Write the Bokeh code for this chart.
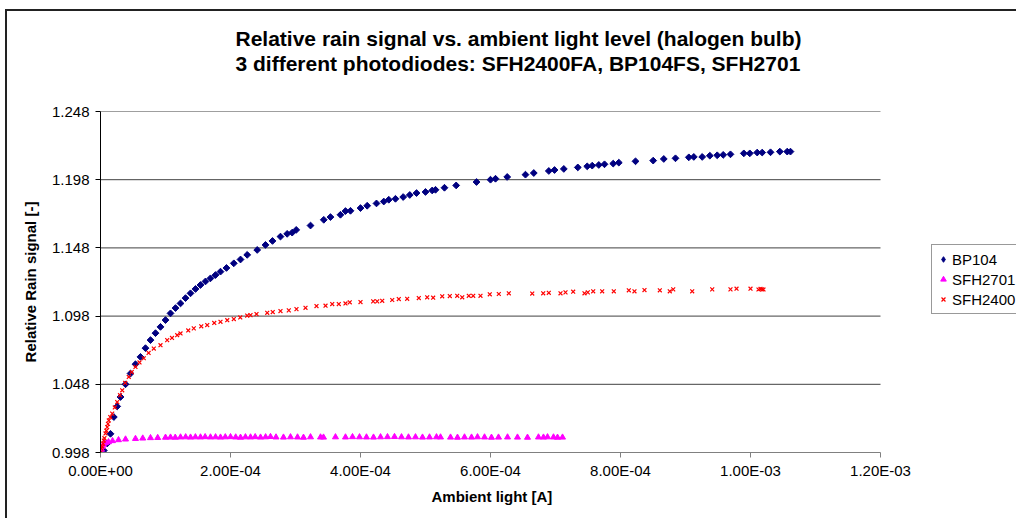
from bokeh.plotting import figure
from bokeh.layouts import column
from bokeh.models import (Range1d, FixedTicker, CustomJSTickFormatter, PrintfTickFormatter,
                          Legend, LegendItem, Title)
from bokeh.embed import file_html
from bokeh.resources import INLINE

title_line1 = "Relative rain signal vs. ambient light level (halogen bulb)"
title_line2 = "3 different photodiodes: SFH2400FA, BP104FS, SFH2701"
x_label = "Ambient light [A]"
y_label = "Relative Rain signal [-]"
series_names = ["BP104", "SFH2701", "SFH2400"]

x_ticks = [0.0, 2e-4, 4e-4, 6e-4, 8e-4, 1e-3, 1.2e-3]
y_ticks = [0.998, 1.048, 1.098, 1.148, 1.198, 1.248]

# (ambient light [A], relative rain signal)
bp104 = [
    (0.0, 0.998), (5.1e-6, 0.9995), (1.03e-5, 1.0046), (1.54e-5, 1.0117), (2.05e-5, 1.0240),
    (2.57e-5, 1.0318), (3.08e-5, 1.0387), (3.85e-5, 1.0480), (4.62e-5, 1.0559), (5.38e-5, 1.0627),
    (6.15e-5, 1.0681), (6.92e-5, 1.0745), (7.69e-5, 1.0804), (8.46e-5, 1.0855), (9.23e-5, 1.0901),
    (1.0e-4, 1.0951), (1.077e-4, 1.1000), (1.154e-4, 1.1039), (1.231e-4, 1.1073), (1.308e-4, 1.1112),
    (1.385e-4, 1.1147), (1.462e-4, 1.1179), (1.538e-4, 1.1208), (1.615e-4, 1.1234), (1.692e-4, 1.1257),
    (1.769e-4, 1.1281), (1.846e-4, 1.1306), (1.938e-4, 1.1333), (2.051e-4, 1.1367), (2.154e-4, 1.1395),
    (2.257e-4, 1.1429), (2.411e-4, 1.1465), (2.538e-4, 1.1502), (2.646e-4, 1.1531), (2.769e-4, 1.1563),
    (2.872e-4, 1.1583), (2.949e-4, 1.1592), (3.011e-4, 1.1612), (3.231e-4, 1.1644), (3.435e-4, 1.1686),
    (3.538e-4, 1.1706), (3.692e-4, 1.1723), (3.769e-4, 1.1750), (3.846e-4, 1.1752), (4.0e-4, 1.1772),
    (4.103e-4, 1.1789), (4.246e-4, 1.1806), (4.358e-4, 1.1820), (4.435e-4, 1.1833), (4.538e-4, 1.1840),
    (4.657e-4, 1.1853), (4.758e-4, 1.1868), (4.862e-4, 1.1882), (5.0e-4, 1.1890), (5.103e-4, 1.1901),
    (5.154e-4, 1.1906), (5.292e-4, 1.1921), (5.472e-4, 1.1938), (5.785e-4, 1.1963), (6.0e-4, 1.1980),
    (6.077e-4, 1.1987), (6.257e-4, 1.2000), (6.538e-4, 1.2017), (6.666e-4, 1.2029), (6.897e-4, 1.2044),
    (6.985e-4, 1.2051), (7.128e-4, 1.2059), (7.343e-4, 1.2070), (7.488e-4, 1.2078), (7.565e-4, 1.2083),
    (7.666e-4, 1.2088), (7.754e-4, 1.2093), (7.888e-4, 1.2098), (7.974e-4, 1.2105), (8.231e-4, 1.2115),
    (8.503e-4, 1.2120), (8.666e-4, 1.2132), (8.846e-4, 1.2137), (9.051e-4, 1.2144), (9.128e-4, 1.2147),
    (9.257e-4, 1.2147), (9.374e-4, 1.2156), (9.488e-4, 1.2159), (9.580e-4, 1.2162), (9.692e-4, 1.2166),
    (9.897e-4, 1.2173), (9.989e-4, 1.2173), (1.0103e-3, 1.2179), (1.018e-3, 1.2179), (1.0308e-3, 1.2181),
    (1.0451e-3, 1.2186), (1.0565e-3, 1.2186), (1.0615e-3, 1.2186),
]

sfh2701 = [
    (0.0, 0.998), (1.5e-6, 1.0002), (3.1e-6, 1.0024), (4.6e-6, 1.0039), (7.7e-6, 1.0050),
    (1.23e-5, 1.0057), (1.85e-5, 1.0065), (2.77e-5, 1.0072), (3.85e-5, 1.0077), (5.38e-5, 1.0081),
    (6.5e-5, 1.0084), (7.69e-5, 1.0087), (8.8e-5, 1.0088), (1.0e-4, 1.0090), (1.077e-4, 1.0091),
    (1.15e-4, 1.0090), (1.231e-4, 1.0092), (1.31e-4, 1.0093), (1.385e-4, 1.0091), (1.46e-4, 1.0093),
    (1.538e-4, 1.0092), (1.61e-4, 1.0094), (1.692e-4, 1.0092), (1.77e-4, 1.0093), (1.846e-4, 1.0091),
    (1.92e-4, 1.0093), (2.0e-4, 1.0094), (2.08e-4, 1.0092), (2.154e-4, 1.0090), (2.23e-4, 1.0093),
    (2.308e-4, 1.0092), (2.38e-4, 1.0094), (2.462e-4, 1.0091), (2.54e-4, 1.0093), (2.615e-4, 1.0095),
    (2.70e-4, 1.0092), (2.815e-4, 1.0091), (2.923e-4, 1.0093), (3.031e-4, 1.0092), (3.123e-4, 1.0090),
    (3.231e-4, 1.0093), (3.385e-4, 1.0092), (3.431e-4, 1.0091), (3.615e-4, 1.0093), (3.769e-4, 1.0092),
    (3.877e-4, 1.0094), (3.985e-4, 1.0093), (4.092e-4, 1.0092), (4.2e-4, 1.0091), (4.308e-4, 1.0093),
    (4.415e-4, 1.0094), (4.523e-4, 1.0095), (4.631e-4, 1.0093), (4.738e-4, 1.0092), (4.846e-4, 1.0093),
    (4.954e-4, 1.0091), (5.062e-4, 1.0092), (5.169e-4, 1.0093), (5.231e-4, 1.0092), (5.385e-4, 1.0091),
    (5.492e-4, 1.0090), (5.6e-4, 1.0092), (5.708e-4, 1.0091), (5.8e-4, 1.0093), (5.908e-4, 1.0092),
    (6.015e-4, 1.0090), (6.123e-4, 1.0091), (6.262e-4, 1.0092), (6.415e-4, 1.0091), (6.569e-4, 1.0090),
    (6.738e-4, 1.0092), (6.815e-4, 1.0091), (6.877e-4, 1.0093), (6.969e-4, 1.0092), (7.031e-4, 1.0090),
    (7.108e-4, 1.0091),
]

sfh2400 = [
    (0.0, 0.998), (1.5e-6, 1.0009), (2.6e-6, 1.0024), (4.0e-6, 1.0045), (5.1e-6, 1.0068),
    (6.0e-6, 1.0085), (7.7e-6, 1.0120), (9.0e-6, 1.0140), (1.03e-5, 1.0166), (1.15e-5, 1.0190),
    (1.28e-5, 1.0215), (1.5e-5, 1.0240), (1.8e-5, 1.0265), (2.2e-5, 1.0310), (2.57e-5, 1.0350),
    (3.0e-5, 1.0400), (3.34e-5, 1.0436), (3.8e-5, 1.0490), (4.35e-5, 1.0534), (4.8e-5, 1.0570),
    (5.38e-5, 1.0607), (6.0e-5, 1.0640), (6.66e-5, 1.0671), (7.4e-5, 1.0710), (8.2e-5, 1.0742),
    (9.23e-5, 1.0767), (1.026e-4, 1.0804), (1.1e-4, 1.0820), (1.18e-4, 1.0840), (1.231e-4, 1.0853),
    (1.35e-4, 1.0875), (1.435e-4, 1.0890), (1.55e-4, 1.0905), (1.642e-4, 1.0914), (1.75e-4, 1.0930),
    (1.846e-4, 1.0938), (1.95e-4, 1.0950), (2.051e-4, 1.0958), (2.15e-4, 1.0970), (2.257e-4, 1.0984),
    (2.308e-4, 1.0987), (2.4e-4, 1.0995), (2.565e-4, 1.1004), (2.65e-4, 1.1010), (2.769e-4, 1.1017),
    (2.897e-4, 1.1022), (3.015e-4, 1.1031), (3.154e-4, 1.1041), (3.323e-4, 1.1054), (3.462e-4, 1.1056),
    (3.565e-4, 1.1068), (3.666e-4, 1.1068), (3.769e-4, 1.1073), (3.835e-4, 1.1081), (4.0e-4, 1.1083),
    (4.195e-4, 1.1088), (4.257e-4, 1.1088), (4.334e-4, 1.1092), (4.488e-4, 1.1098), (4.589e-4, 1.1105),
    (4.718e-4, 1.1107), (4.897e-4, 1.1112), (5.026e-4, 1.1118), (5.118e-4, 1.1115), (5.257e-4, 1.1125),
    (5.374e-4, 1.1127), (5.488e-4, 1.1129), (5.565e-4, 1.1118), (5.666e-4, 1.1129), (5.734e-4, 1.1129),
    (5.846e-4, 1.1129), (5.989e-4, 1.1140), (6.128e-4, 1.1142), (6.282e-4, 1.1147), (6.642e-4, 1.1145),
    (6.811e-4, 1.1147), (6.897e-4, 1.1151), (7.077e-4, 1.1147), (7.154e-4, 1.1154), (7.272e-4, 1.1159),
    (7.446e-4, 1.1147), (7.497e-4, 1.1154), (7.580e-4, 1.1162), (7.718e-4, 1.1162), (7.897e-4, 1.1162),
    (8.128e-4, 1.1169), (8.215e-4, 1.1162), (8.369e-4, 1.1171), (8.605e-4, 1.1169), (8.758e-4, 1.1162),
    (8.811e-4, 1.1176), (9.103e-4, 1.1162), (9.411e-4, 1.1176), (9.692e-4, 1.1176), (9.785e-4, 1.1181),
    (1.0e-3, 1.1181), (1.0123e-3, 1.1175), (1.0154e-3, 1.1179), (1.018e-3, 1.1176), (1.02e-3, 1.1175),
]

FONT = "Liberation Sans"

# The frame runs on to the right edge so that the legend (outside the plot area) is not clipped;
# axis line and grid lines stop at the last tick, as in the reference.
FIG_W, FIG_H = 1009, 507
BORDER_L, BORDER_T, BORDER_B = 93, 100, 66
PLOT_AREA_W = 780
frame_w = FIG_W - BORDER_L
x_end = x_ticks[-1] * frame_w / PLOT_AREA_W

p = figure(width=FIG_W, height=FIG_H, output_backend="svg", toolbar_location=None, title=None,
           x_range=Range1d(x_ticks[0], x_end), y_range=Range1d(y_ticks[0], y_ticks[-1]),
           min_border_left=BORDER_L, min_border_right=0, min_border_top=BORDER_T,
           min_border_bottom=BORDER_B)
p.background_fill_color = "white"
p.border_fill_color = "white"
p.outline_line_color = None

# axes
p.xaxis.ticker = FixedTicker(ticks=x_ticks)
p.yaxis.ticker = FixedTicker(ticks=y_ticks)
p.xaxis.bounds = (x_ticks[0], x_ticks[-1])
p.xaxis.formatter = CustomJSTickFormatter(code="""
    var s = tick.toExponential(2);
    var parts = s.split('e');
    var e = parseInt(parts[1]);
    var sign = e < 0 ? '-' : '+';
    var ae = Math.abs(e);
    return parts[0] + 'E' + sign + (ae < 10 ? '0' : '') + ae;
""")
p.yaxis.formatter = PrintfTickFormatter(format="%.3f")
for ax in (p.xaxis, p.yaxis):
    ax.major_label_text_font = FONT
    ax.major_label_text_font_size = "15px"
    ax.major_label_text_color = "black"
    ax.axis_label_text_font = FONT
    ax.axis_label_text_font_size = "15px"
    ax.axis_label_text_font_style = "bold"
    ax.axis_label_text_color = "black"
    ax.major_tick_in = 0
    ax.major_tick_out = 5
    ax.minor_tick_line_color = None
    ax.major_tick_line_color = "black"
p.yaxis.axis_label = y_label
p.xaxis.axis_line_color = "#808080"
p.xaxis.major_tick_line_color = "#808080"
p.yaxis.axis_line_color = "black"
p.xaxis.major_label_standoff = 4
p.yaxis.major_label_standoff = 6
p.yaxis.axis_label_standoff = 10

p.xgrid.grid_line_color = None
p.ygrid.grid_line_color = None
grid_ys = y_ticks[1:]
p.segment(x0=[x_ticks[0]] * len(grid_ys), y0=grid_ys, x1=[x_ticks[-1]] * len(grid_ys), y1=grid_ys,
          line_color="#404040", line_width=1, level="underlay")

# series (drawn in Excel order)
bx = [v[0] for v in bp104]
by = [v[1] for v in bp104]
r1 = p.scatter(bx, by, marker="square", angle=0.7854,
               size=4.8, fill_color="#000080", line_color="#000080")
# legend swatch for BP104 (legend keys ignore marker rotation, so use a diamond key drawn
# on BP104's first point, which sits under the other series at the origin)
r1_key = p.scatter(bx[:1], by[:1], marker="diamond", size=8.5,
                   fill_color="#000080", line_color="#000080")
r2 = p.scatter([v[0] for v in sfh2701], [v[1] for v in sfh2701], marker="triangle",
               size=6, fill_color="#FF00FF", line_color="#FF00FF")
r3 = p.scatter([v[0] for v in sfh2400], [v[1] for v in sfh2400], marker="x",
               size=5.5, line_color="#FF0000", line_width=1.2)

legend = Legend(items=[LegendItem(label=series_names[0], renderers=[r1_key]),
                       LegendItem(label=series_names[1], renderers=[r2]),
                       LegendItem(label=series_names[2], renderers=[r3])],
                location=(831, 138), orientation="vertical", margin=0, padding=4,
                spacing=0, label_height=20, glyph_height=14, glyph_width=14,
                label_standoff=2, border_line_color="#333333", border_line_width=1.5,
                background_fill_color="white", background_fill_alpha=1.0,
                label_text_font=FONT, label_text_font_size="15px", label_text_color="black")
p.add_layout(legend, "center")

# two-line title, stacked outward from the frame (first added = closest to frame)
p.add_layout(Title(text=" ", text_font_size="31px", standoff=0), "above")
p.add_layout(Title(text=title_line2, align="left", offset=135, text_font=FONT,
                   text_font_size="21px", text_font_style="bold", text_color="black",
                   standoff=0), "above")
p.add_layout(Title(text=title_line1, align="left", offset=135, text_font=FONT,
                   text_font_size="21px", text_font_style="bold", text_color="black",
                   standoff=0), "above")

# x-axis title, centred under the plot area (not under the extended frame)
p.add_layout(Title(text=" ", text_font_size="2px", standoff=0), "below")
p.add_layout(Title(text=x_label, align="left", offset=331, text_font=FONT,
                   text_font_size="15px", text_font_style="bold", text_color="black",
                   standoff=0), "below")

page = column(p, margin=(9, 0, 0, 5),
              styles={"border-left": "2px solid #222222", "border-top": "2px solid #222222"})

open("out.html", "w").write(file_html(page, INLINE))
